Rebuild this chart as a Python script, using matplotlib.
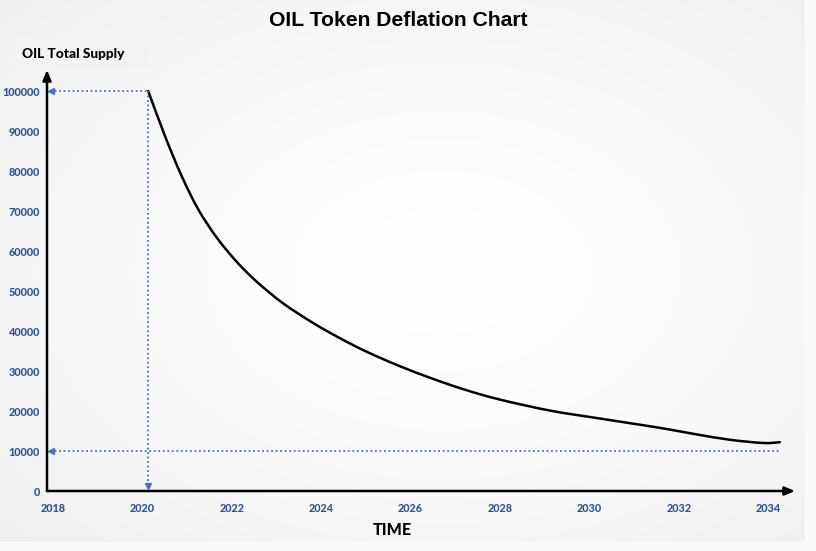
import numpy as np
import matplotlib
matplotlib.use("Agg")
import matplotlib.pyplot as plt
from matplotlib.path import Path
from matplotlib.patches import PathPatch

# ---- data ----
years = [2020.13, 2020.51, 2020.88, 2021.25, 2021.66, 2022.11, 2022.56, 2023.15,
         2023.82, 2024.42, 2025.02, 2025.76, 2026.51, 2027.25, 2028.0, 2029.12,
         2030.16, 2030.91, 2031.65, 2032.40, 2033.15, 2033.89, 2034.26]
supply = [100000, 88600, 78700, 70400, 63400, 57300, 52300, 46900,
          42000, 38200, 34800, 31200, 28000, 25200, 22850, 20100,
          18250, 16950, 15650, 14150, 12800, 12000, 12200]
floor_supply = 10000
x_ticks = [2018, 2020, 2022, 2024, 2026, 2028, 2030, 2032, 2034]
y_ticks = [0, 10000, 20000, 30000, 40000, 50000, 60000, 70000, 80000, 90000, 100000]

W, H = 816, 551
fig = plt.figure(figsize=(W / 100, H / 100), dpi=100)
fig.patch.set_facecolor("#fafafa")

# background gradient panel
bg = fig.add_axes([0, 9 / H, 805 / W, 542 / H])
bg.set_axis_off()
yy, xx = np.mgrid[0:1:200j, 0:1:300j]
r = np.sqrt(((xx - 0.55) / 0.8) ** 2 + ((yy - 0.5) / 0.8) ** 2)
g = np.clip(1.0 - 0.07 * r ** 1.5, 0.93, 1.0)
bg.imshow(np.dstack([g, g, g]), aspect="auto", extent=[0, 1, 0, 1], origin="lower")
bg.set_xlim(0, 1)
bg.set_ylim(0, 1)

blue_lbl = "#2F5597"
dot_blue = "#4472C4"

ax_l, ax_r = 47, 795
ax_b, ax_t = 491, 70
ax = fig.add_axes([ax_l / W, (H - ax_b) / H, (ax_r - ax_l) / W, (ax_b - ax_t) / H])
ax.patch.set_alpha(0)
px_per_year = 44.7
x0 = 2018 - 6 / px_per_year
x1 = 2018 + (ax_r - 53) / px_per_year
ax.set_xlim(x0, x1)
ax.set_ylim(0, (ax_b - ax_t) * 250)
for s in ax.spines.values():
    s.set_visible(False)

# axes arrows
ax.annotate("", xy=(1.0, 0), xytext=(0, 0), xycoords="axes fraction",
            arrowprops=dict(arrowstyle="-|>,head_length=0.6,head_width=0.25", color="black", lw=1.8,
                            shrinkA=0, shrinkB=0))
ax.annotate("", xy=(0, 1.0), xytext=(0, 0), xycoords="axes fraction",
            arrowprops=dict(arrowstyle="-|>,head_length=0.6,head_width=0.25", color="black", lw=1.8,
                            shrinkA=0, shrinkB=0))

# ticks
ax.set_xticks(x_ticks)
ax.set_xticklabels([str(t) for t in x_ticks])
ax.set_yticks(y_ticks)
ax.set_yticklabels([str(t) for t in y_ticks])
ax.tick_params(length=0, labelsize=7.8, labelcolor=blue_lbl)
ax.tick_params(axis="x", pad=9)
ax.tick_params(axis="y", pad=5)
for lab in ax.get_xticklabels() + ax.get_yticklabels():
    lab.set_fontfamily("Lato")
    lab.set_fontweight("black")

# dotted guide lines
start_x, start_y = years[0], supply[0]
dot = (0, (1, 1.5))
ax.plot([x0 + 0.07, start_x], [start_y, start_y], ls=dot, color=dot_blue, lw=1.3)
ax.plot([x0 + 0.09], [start_y], marker="<", color=dot_blue, ms=5)
ax.plot([start_x, start_x], [start_y, 1200], ls=dot, color=dot_blue, lw=1.3)
ax.plot([start_x], [1200], marker="v", color=dot_blue, ms=5)
ax.plot([x0 + 0.07, years[-1]], [floor_supply, floor_supply], ls=dot, color=dot_blue, lw=1.3)
ax.plot([x0 + 0.09], [floor_supply], marker="<", color=dot_blue, ms=5)

# smooth curve (Catmull-Rom rendered as cubic Bezier in data coordinates)
pts = np.column_stack([years, supply]).astype(float)
verts = [tuple(pts[0])]
codes = [Path.MOVETO]
n = len(pts)
for i in range(n - 1):
    p0 = pts[i - 1] if i > 0 else pts[i]
    p1 = pts[i]
    p2 = pts[i + 1]
    p3 = pts[i + 2] if i + 2 < n else pts[i + 1]
    c1 = p1 + (p2 - p0) / 6.0
    c2 = p2 - (p3 - p1) / 6.0
    verts += [tuple(c1), tuple(c2), tuple(p2)]
    codes += [Path.CURVE4] * 3
ax.add_patch(PathPatch(Path(verts, codes), fc="none", ec="black", lw=1.8,
                       capstyle="round", transform=ax.transData))

# labels
fig.text(398 / W, 1 - 21 / H, "OIL Token Deflation Chart", ha="center", va="center",
         fontsize=15.2, fontweight="bold", family="Liberation Sans")
fig.add_artist(plt.Rectangle((12 / W, 1 - 68 / H), 136 / W, 30 / H,
                             transform=fig.transFigure, fc="#f2f2f2", ec="none"))
fig.text(73 / W, 1 - 54 / H, "OIL Total Supply", ha="center", va="center",
         fontsize=9.8, fontweight="black", family="Lato")
fig.text(392 / W, 1 - 530 / H, "TIME", ha="center", va="center",
         fontsize=11.5, fontweight="black", family="Lato")

fig.savefig("out.png", dpi=100, facecolor=fig.get_facecolor())
